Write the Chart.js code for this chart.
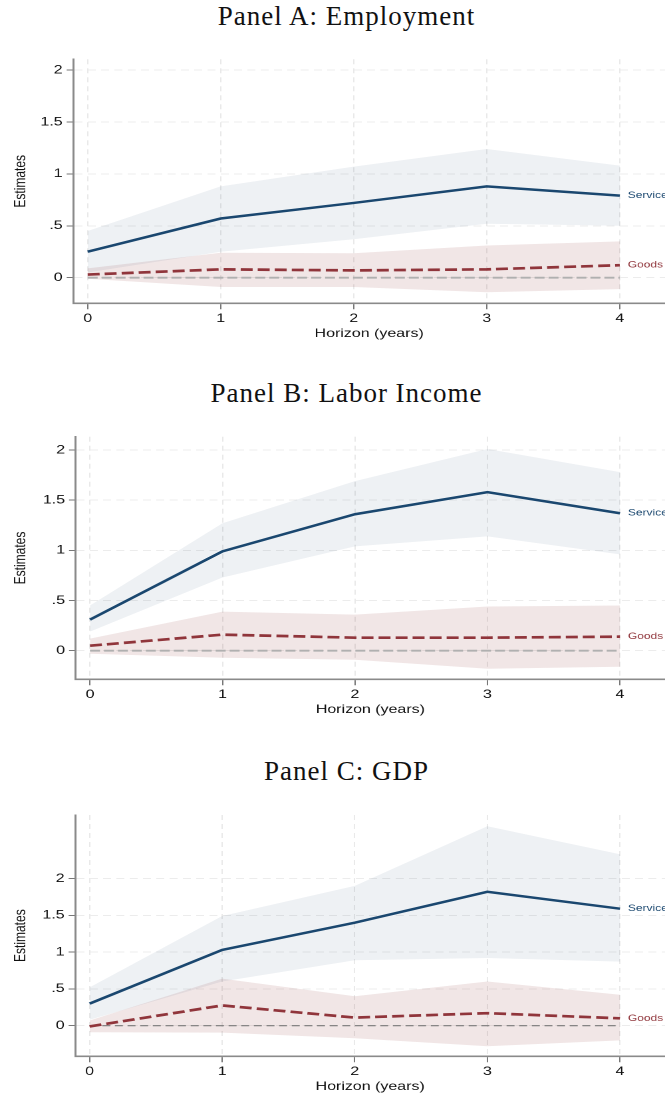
<!DOCTYPE html>
<html>
<head>
<meta charset="utf-8">
<script src="https://cdn.jsdelivr.net/npm/chart.js@4.4.1/dist/chart.umd.min.js"></script>
<style>
  html, body { margin: 0; padding: 0; background: #fff; overflow: hidden; }
  #page { position: relative; width: 665px; height: 1096px; overflow: hidden; }
  .title {
    position: absolute; left: 14px; width: 665px; text-align: center;
    font-family: "Liberation Serif", "DejaVu Serif", serif; font-size: 27px;
    line-height: 30px; letter-spacing: 1px; color: #111; white-space: nowrap;
  }
  /* plots are drawn narrow and widened horizontally, as in the exported figure */
  .panel { position: absolute; left: 0; width: 500px; transform: scaleX(1.33); transform-origin: 0 0; }
</style>
</head>
<body>
<div id="page">
  <div class="title" style="top:1px">Panel A: Employment</div>
  <div class="title" style="top:378px">Panel B: Labor Income</div>
  <div class="title" style="top:756px">Panel C: GDP</div>
  <div class="panel" style="top:40px"><canvas id="cA" width="500" height="310"></canvas></div>
  <div class="panel" style="top:420px"><canvas id="cB" width="500" height="306"></canvas></div>
  <div class="panel" style="top:795px"><canvas id="cC" width="500" height="308.7"></canvas></div>
</div>
<script>
// Horizon (years) and axis ticks
const horizons = [0, 1, 2, 3, 4];
const xTickLabels = ['0', '1', '2', '3', '4'];
const yTickValues = [0, 0.5, 1, 1.5, 2];
const yTickLabels = ['0', '.5', '1', '1.5', '2'];
const zeroLine = [0, 0, 0, 0, 0];

// Panel A: Employment
const empServices   = [0.25, 0.57, 0.72, 0.88, 0.79];
const empServicesHi = [0.45, 0.88, 1.07, 1.24, 1.08];
const empServicesLo = [0.05, 0.25, 0.37, 0.52, 0.50];
const empGoods      = [0.03, 0.08, 0.07, 0.08, 0.12];
const empGoodsHi    = [0.09, 0.24, 0.235, 0.31, 0.35];
const empGoodsLo    = [-0.01, -0.09, -0.09, -0.14, -0.11];

// Panel B: Labor Income
const incServices   = [0.31, 0.99, 1.36, 1.58, 1.37];
const incServicesHi = [0.45, 1.27, 1.69, 2.01, 1.78];
const incServicesLo = [0.19, 0.73, 1.04, 1.14, 0.96];
const incGoods      = [0.05, 0.16, 0.13, 0.13, 0.14];
const incGoodsHi    = [0.12, 0.39, 0.36, 0.44, 0.45];
const incGoodsLo    = [-0.03, -0.07, -0.09, -0.18, -0.16];

// Panel C: GDP
const gdpServices   = [0.30, 1.03, 1.40, 1.82, 1.59];
const gdpServicesHi = [0.52, 1.49, 1.90, 2.71, 2.33];
const gdpServicesLo = [0.08, 0.60, 0.89, 0.92, 0.87];
const gdpGoods      = [-0.01, 0.275, 0.11, 0.17, 0.10];
const gdpGoodsHi    = [0.07, 0.64, 0.40, 0.60, 0.42];
const gdpGoodsLo    = [-0.09, -0.095, -0.17, -0.28, -0.20];

const seriesNames = ['Services', 'Goods'];

const NAVY = '#1a476f';
const MAROON = '#90353b';
const FONT = '"Liberation Sans", Arial, Helvetica, sans-serif';

const pts = (vals) => horizons.map((h, i) => ({ x: h, y: vals[i] }));

// writes the series name just right of each line's last point
const endLabels = {
  id: 'endLabels',
  afterDatasetsDraw(chart) {
    const ctx = chart.ctx;
    ctx.save();
    ctx.font = '9px ' + FONT;
    ctx.textBaseline = 'middle';
    ctx.textAlign = 'left';
    chart.data.datasets.forEach((ds, i) => {
      if (!ds.endLabel) return;
      const meta = chart.getDatasetMeta(i);
      const last = meta.data[meta.data.length - 1];
      ctx.fillStyle = ds.borderColor;
      ctx.fillText(ds.endLabel, last.x + 6, last.y);
    });
    ctx.restore();
  }
};

function makePanel(id, s, opt) {
  const datasets = [
    { data: pts(s.hi), fill: '+1', backgroundColor: 'rgba(26,71,111,0.074)', borderWidth: 0, pointRadius: 0, order: 6 },
    { data: pts(s.lo), fill: false, borderWidth: 0, pointRadius: 0, order: 6 },
    { data: pts(s.ghi), fill: '+1', backgroundColor: 'rgba(144,53,59,0.126)', borderWidth: 0, pointRadius: 0, order: 5 },
    { data: pts(s.glo), fill: false, borderWidth: 0, pointRadius: 0, order: 5 },
    { data: pts(zeroLine), borderColor: opt.zeroColor, borderWidth: opt.zeroWidth, borderDash: opt.zeroDash,
      pointRadius: 0, fill: false, order: 3 },
    { data: pts(s.goods), borderColor: MAROON, borderWidth: 2.7, borderDash: [9, 3.8], pointRadius: 0,
      fill: false, order: 2, endLabel: seriesNames[1] },
    { data: pts(s.services), borderColor: NAVY, borderWidth: 2.5, pointRadius: 0, fill: false,
      order: 1, endLabel: seriesNames[0] }
  ];
  return new Chart(document.getElementById(id), {
    type: 'line',
    data: { datasets },
    plugins: [endLabels],
    options: {
      responsive: false,
      animation: false,
      devicePixelRatio: 2,
      layout: { padding: { top: opt.padTop, left: 0, right: 0, bottom: 0 } },
      plugins: { legend: { display: false }, tooltip: { enabled: false } },
      elements: { line: { tension: 0 } },
      scales: {
        x: {
          type: 'linear', min: -0.108, max: 4.34,
          afterBuildTicks: (ax) => { ax.ticks = horizons.map(v => ({ value: v })); },
          afterFit: (ax) => { ax.height = 46.7; ax.paddingLeft = 0; ax.paddingRight = 0; },
          ticks: {
            callback: (v) => xTickLabels[horizons.indexOf(v)],
            color: '#111', font: { family: FONT, size: 12 }, padding: 2, maxRotation: 0
          },
          grid: { color: '#e9e9e9', lineWidth: 1, tickLength: 6, tickColor: '#777' },
          border: { display: true, color: '#8a8a8a', width: 1.6, dash: [5, 4] },
          title: { display: true, text: 'Horizon (years)', color: '#111',
                   font: { family: FONT, size: 12 }, padding: { top: 0, bottom: 9 } }
        },
        y: {
          type: 'linear', min: opt.yMin, max: opt.yMax,
          afterBuildTicks: (ax) => { ax.ticks = yTickValues.map(v => ({ value: v })); },
          afterFit: (ax) => { ax.width = opt.yWidth; ax.paddingTop = 0; ax.paddingBottom = 0; },
          ticks: {
            callback: (v) => yTickLabels[yTickValues.indexOf(v)],
            color: '#111', font: { family: FONT, size: 12 }, padding: 3
          },
          grid: { color: '#ececec', lineWidth: 1, tickLength: 5, tickColor: '#777' },
          border: { display: true, color: '#8a8a8a', width: 1.5, dash: [6, 4] },
          title: { display: true, text: 'Estimates', color: '#111',
                   font: { family: FONT, size: 12 }, padding: { top: 8.6, bottom: 0 } }
        }
      }
    }
  });
}

makePanel('cA',
  { services: empServices, hi: empServicesHi, lo: empServicesLo, goods: empGoods, ghi: empGoodsHi, glo: empGoodsLo },
  { padTop: 19.3, yMin: -0.247, yMax: 2.104, yWidth: 55.1, zeroColor: '#b0b0b0', zeroWidth: 1.8, zeroDash: [7.5, 3] });
makePanel('cB',
  { services: incServices, hi: incServicesHi, lo: incServicesLo, goods: incGoods, ghi: incGoodsHi, glo: incGoodsLo },
  { padTop: 16.7, yMin: -0.285, yMax: 2.133, yWidth: 56.9, zeroColor: '#b0b0b0', zeroWidth: 1.8, zeroDash: [7.5, 3] });
makePanel('cC',
  { services: gdpServices, hi: gdpServicesHi, lo: gdpServicesLo, goods: gdpGoods, ghi: gdpGoodsHi, glo: gdpGoodsLo },
  { padTop: 20, yMin: -0.416, yMax: 2.863, yWidth: 56.6, zeroColor: '#7a7a7a', zeroWidth: 1.1, zeroDash: [6, 3.5] });
</script>
</body>
</html>
